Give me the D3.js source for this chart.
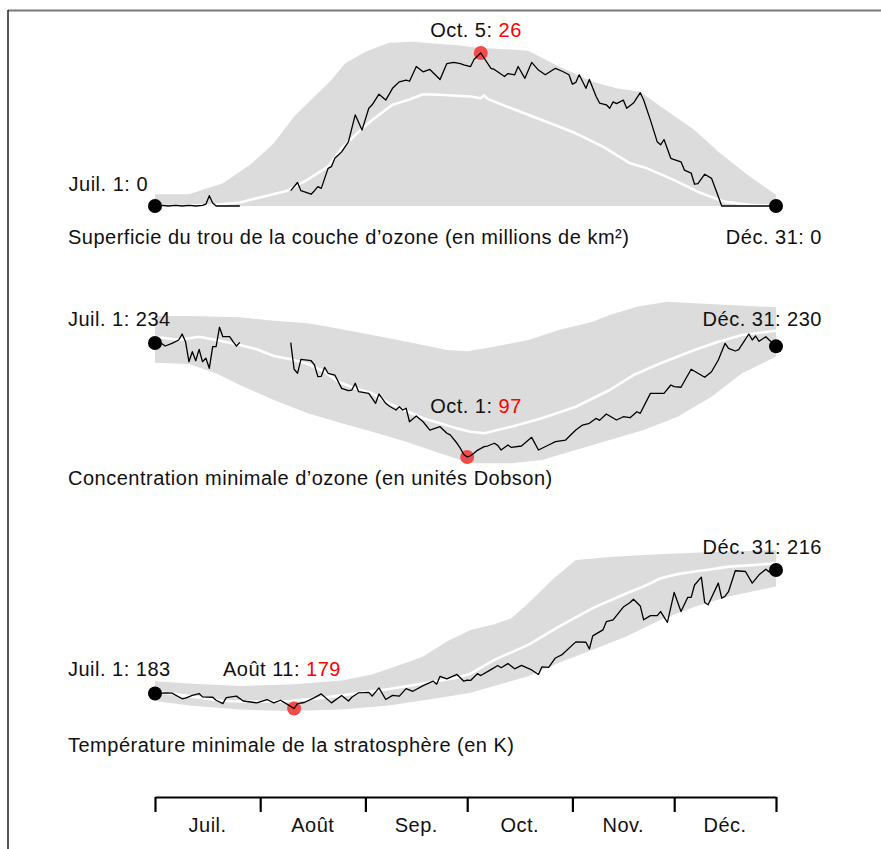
<!DOCTYPE html>
<html>
<head>
<meta charset="utf-8">
<script src="https://cdn.jsdelivr.net/npm/d3@7"></script>
<style>
  html, body { margin: 0; padding: 0; background: #fff; }
  svg { display: block; }
  text { font-family: "Liberation Sans", Arial, sans-serif; font-size: 20px; letter-spacing: 0.5px; fill: #111; }
</style>
</head>
<body>
<svg id="chart" width="881" height="849"></svg>
<script>
// Days are counted from July 1 (day 0) to December 31 (day 183).

// Ozone hole area (millions of km²)
const areaObserved = [[0,0],[2,0.1],[4,0],[6,0.1],[8,0],[10,0.1],[12,0],[14,0.1],[15,0.3],[16,1.75],[17,0.5],[18,0],[20,0],[22,0],[25,0],[26,null],
  [40,2.6],[42,4.0],[43,2.6],[46,2.0],[47,2.6],[48,3.3],[49,3.0],[51,6.4],[52,6.7],[53,8.1],[55,9.2],[57,10.9],[59,15.5],[61,12.9],[63,16.6],[64,17.2],[66,19.0],[68,18.0],[70,20.0],[72,21.1],[74,21.4],[75,21.2],[77,23.7],[79,22.8],[81,23.2],[84,21.5],[86,24.2],[88,24.4],[90,24.2],[91,24.0],[93,23.7],[94,24.9],[96,26],
  [99,23.4],[100,23.2],[103,22.0],[104,22.5],[106,22.3],[107,23.7],[109,21.7],[111,24.4],[113,23.1],[115,22.3],[118,23.4],[120,22.9],[122,22.3],[123,20.7],[124,21.0],[125,22.3],[127,20.0],[128,21.5],[130,18.6],[131,17.5],[133,17.2],[134,16.6],[135,17.7],[136,17.4],[138,18.0],[139,16.6],[141,17.5],[143,19.25],[144,18.0],[146,14.6],[148,10.9],[149,10.4],[150,11.3],[152,8.1],[153,7.9],[155,7.5],[156,6.1],[158,5.6],[159,3.7],[160,3.8],[162,5.4],[164,4.7],[166,1.6],[167,0],[183,0]];
const areaMean = [[0,0],[10,0.05],[18,0.2],[25,0.6],[33,1.75],[39,2.6],[45,4.5],[51,6.7],[55,9.8],[60,12.6],[64,14.6],[70,17.2],[75,18.1],[79,19.0],[84,18.9],[90,18.7],[93,18.6],[96,18.3],[97,18.8],[98,18.2],[105,16.6],[114,14.6],[124,12.35],[132,10.1],[140,7.25],[145,6.4],[153,4.4],[161,2.15],[168,0.7],[175,0.2],[183,0]];
const areaHigh = [[0,2.0],[10,2.0],[20,3.85],[28,7.0],[35,10.65],[41,15.2],[47,18.6],[52,21.4],[56,24.2],[62,26.2],[69,27.75],[76,27.9],[82,27.6],[89,27.3],[95,26.9],[102,26.7],[110,26.4],[119,23.7],[129,21.1],[136,20.0],[143,19.4],[149,16.9],[159,12.9],[166,9.2],[174,5.55],[183,1.9]];
const areaLow = [[0,0],[183,0]];

// Minimum ozone concentration (Dobson units)
const ozoneObserved = [[0,234],[1,236],[3,230.4],[5,233.6],[7,237.6],[8,244.8],[9,235.6],[10,211.5],[11,223.5],[12,212.7],[13,226.4],[14,211.5],[15,215.6],[16,203.6],[17,229.6],[18,229.6],[19,252.9],[20,241.6],[22,241.6],[23,235.6],[24,230.4],[25,234.8],[26,null],
  [40,234.4],[41,202.4],[42,197.6],[43,214.4],[46,212.7],[47,207.6],[48,193.5],[49,194],[50,204.8],[51,197.6],[53,195.5],[55,179.5],[57,176.7],[58,177.5],[59,185.6],[60,175.5],[63,173.5],[65,161.5],[66,172.7],[68,161.5],[69,158.3],[71,153.5],[72,157.4],[73,153.5],[74,155.6],[75,139.4],[77,146.3],[79,139.4],[81,129.4],[84,133.4],[86,125.5],[87,123.5],[89,113.5],[90,107.4],[91,100],[92,97],
  [93,98.5],[94,101.4],[95,105],[97,109.4],[98,110.2],[100,113.5],[101,111],[102,105.4],[104,111.4],[105,108.5],[108,110.2],[111,120.6],[113,105.4],[116,111.4],[118,115.4],[121,117.4],[124,129.4],[126,135.4],[128,137.5],[130,143.5],[131,141],[133,148.7],[136,141.5],[138,145.4],[140,144.2],[142,151.4],[143,149.5],[146,173.5],[150,173.5],[152,183.5],[153,181.5],[155,180.8],[158,202.4],[160,197.6],[162,192.8],[164,199.5],[166,213.6],[168,233.6],[169,227.6],[171,224.4],[172,226],[175,244.8],[176,237.6],[177,242.4],[178,236],[180,241.6],[181,237.6],[183,230]];
const ozoneMean = [[0,241.6],[7,237.6],[13,241.6],[18,237.6],[25,231.6],[30,226.4],[35,218.4],[40,214.4],[45,208.8],[50,199.5],[54,187.5],[59,179.5],[64,173.5],[69,161.5],[74,152.6],[79,143.5],[84,137.5],[89,131.4],[93,127.4],[97,125.5],[105,133.4],[114,143.5],[124,157.4],[134,177.5],[141,195.5],[149,209.6],[152,214.4],[159,225.6],[166,235.6],[173,243.6],[183,248.8]];
const ozoneHigh = [[0,266.5],[10,266.5],[25,264.9],[35,260.8],[45,257.7],[51,253.6],[59,247.6],[69,239.6],[79,231.6],[86,225.6],[92,224],[100,229.6],[110,237.6],[119,249.6],[129,259.6],[134,267.7],[142,277.6],[151,283.6],[159,281.7],[169,279.7],[183,276.9]];
const ozoneLow = [[0,210.3],[10,208.8],[18,197.6],[25,183.5],[35,165.5],[45,149.5],[55,137.5],[64,127.4],[74,115.4],[84,101.4],[93,89.4],[97,89.4],[105,89.4],[114,93.4],[124,105.4],[134,117.4],[144,129.4],[154,145.4],[164,169.5],[173,197.6],[183,217.5]];

// Minimum stratospheric temperature (K)
const tempObserved = [[0,183],[3,183.2],[5,183.1],[8,181.6],[9,181.8],[11,182.5],[13,183],[14,182.1],[17,182],[18,181.2],[20,180.3],[21,181.9],[24,182.3],[26,181],[30,180.5],[33,181.4],[35,180.5],[37,181.2],[39,180.1],[41,179],[42,180.3],[44,180.6],[47,181.9],[49,182.9],[52,180.5],[55,182.5],[57,181],[58,182],[60,183.2],[63,183.3],[64,182.3],[66,184.5],[68,181.4],[70,182.5],[72,182.3],[74,184.3],[76,183.6],[79,185.1],[82,186.3],[83,185.5],[84,187.6],[86,186.9],[89,188.1],[91,186.3],[92,186.6],[93,186.5],[95,188.3],[96,187.8],[99,189.4],[101,190.5],[102,189.9],[104,191],[106,189.6],[108,190.5],[111,189.3],[113,188.1],[114,190.1],[116,190],[118,192.5],[120,193.4],[124,196.8],[127,196.7],[128,194.9],[129,198.4],[132,200],[133,202.2],[135,202.7],[138,206.1],[140,207.3],[141,208.2],[143,206.4],[144,202.7],[146,203.8],[148,203.8],[149,204.9],[151,202],[153,210],[155,204.9],[157,208.7],[158,208.7],[159,212],[161,214.1],[162,207.3],[163,206.7],[166,212.5],[167,208.5],[168,209],[169,210.2],[171,215.8],[174,215.6],[176,212.5],[178,214.7],[180,216.2],[181,215.5],[183,216]];
const tempMean = [[0,183.5],[10,182.3],[20,181],[30,180.8],[40,181],[50,181.9],[59,183],[69,184.2],[79,185.7],[89,187.2],[93,188.3],[100,192],[110,196],[119,200.9],[129,205.8],[139,209.8],[144,211.6],[149,213.8],[154,214.9],[159,215.6],[164,216.2],[169,216.9],[176,217.3],[183,217.8]];
const tempHigh = [[0,186.3],[10,185.7],[25,185],[40,185.4],[55,186.5],[64,188.1],[74,191.2],[79,192.9],[86,196.9],[93,200],[100,201.5],[105,203.1],[110,207.1],[117,213.3],[124,218.7],[134,219.5],[144,220],[159,220.6],[183,221.3]];
const tempLow = [[0,181],[10,179.8],[25,178.7],[40,178.3],[55,178.7],[69,179.8],[84,181.9],[93,183.2],[100,185],[110,187.6],[119,191.2],[129,194.7],[139,198.3],[149,202.7],[159,206.2],[169,208.9],[183,211.6]];

// Month axis
const monthStarts = [0, 31, 62, 92, 123, 153, 183];
const monthLabels = ["Juil.", "Août", "Sep.", "Oct.", "Nov.", "Déc."];

const svg = d3.select("#chart");
const x = d3.scaleLinear().domain([0, 183]).range([155, 776]);

// frame
svg.append("line").attr("x1", 8).attr("x2", 881).attr("y1", 10.5).attr("y2", 10.5)
  .attr("stroke", "#777").attr("stroke-width", 2);
svg.append("line").attr("x1", 8).attr("x2", 8).attr("y1", 10).attr("y2", 849)
  .attr("stroke", "#222").attr("stroke-width", 1.5);

const panels = [
  {
    observed: areaObserved, mean: areaMean, high: areaHigh, low: areaLow,
    y: d3.scaleLinear().domain([0, 26]).range([206, 53]),
    title: "Superficie du trou de la couche d\u2019ozone (en millions de km\u00B2)", titleY: 244,
    start: { label: "Juil. 1: ", value: 0, day: 0, x: 148, y: 191, anchor: "end" },
    end: { label: "Déc. 31: ", value: 0, day: 183, x: 822, y: 244, anchor: "end" },
    extreme: { label: "Oct. 5: ", value: 26, day: 96, x: 476, y: 37, anchor: "middle" }
  },
  {
    observed: ozoneObserved, mean: ozoneMean, high: ozoneHigh, low: ozoneLow,
    y: d3.scaleLinear().domain([97, 234]).range([457, 343]),
    title: "Concentration minimale d\u2019ozone (en unités Dobson)", titleY: 485,
    start: { label: "Juil. 1: ", value: 234, day: 0, x: 68, y: 326, anchor: "start" },
    end: { label: "Déc. 31: ", value: 230, day: 183, x: 822, y: 326, anchor: "end" },
    extreme: { label: "Oct. 1: ", value: 97, day: 92, x: 476, y: 413, anchor: "middle" }
  },
  {
    observed: tempObserved, mean: tempMean, high: tempHigh, low: tempLow,
    y: d3.scaleLinear().domain([179, 216]).range([708.5, 570]),
    title: "Température minimale de la stratosphère (en K)", titleY: 752,
    start: { label: "Juil. 1: ", value: 183, day: 0, x: 68, y: 676, anchor: "start" },
    end: { label: "Déc. 31: ", value: 216, day: 183, x: 822, y: 554, anchor: "end" },
    extreme: { label: "Août 11: ", value: 179, day: 41, x: 223, y: 676, anchor: "start" }
  }
];

panels.forEach(p => {
  const g = svg.append("g");
  const line = d3.line().defined(d => d[1] != null).x(d => x(d[0])).y(d => p.y(d[1]));

  // range band: upper edge forward, lower edge back
  const band = p.high.concat(p.low.slice().reverse());
  g.append("path").attr("d", line(band) + "Z").attr("fill", "#dcdcdc");

  g.append("path").attr("d", line(p.mean)).attr("fill", "none")
    .attr("stroke", "#fff").attr("stroke-width", 2.6).attr("stroke-linejoin", "round");

  g.append("circle").attr("cx", x(p.extreme.day)).attr("cy", p.y(p.extreme.value))
    .attr("r", 7).attr("fill", "#f24b4b");

  g.append("path").attr("d", line(p.observed)).attr("fill", "none")
    .attr("stroke", "#000").attr("stroke-width", 1.3).attr("stroke-linejoin", "round");

  [p.start, p.end].forEach(e => {
    g.append("circle").attr("cx", x(e.day)).attr("cy", p.y(e.value)).attr("r", 7).attr("fill", "#000");
  });

  [p.start, p.end].forEach(e => {
    const t = g.append("text").attr("x", e.x).attr("y", e.y).attr("text-anchor", e.anchor);
    t.append("tspan").text(e.label + e.value);
  });
  const t = g.append("text").attr("x", p.extreme.x).attr("y", p.extreme.y).attr("text-anchor", p.extreme.anchor);
  t.append("tspan").text(p.extreme.label);
  t.append("tspan").style("fill", "#f00").text(p.extreme.value);

  g.append("text").attr("x", 68).attr("y", p.titleY).text(p.title);
});

// month axis
const axis = d3.axisBottom(x).tickValues(monthStarts).tickFormat("").tickSize(15).tickSizeOuter(0);
const ag = svg.append("g").attr("transform", "translate(0,797)").call(axis);
ag.select(".domain").attr("stroke", "#000").attr("stroke-width", 2.2);
ag.selectAll(".tick line").attr("stroke", "#000").attr("stroke-width", 2.2);

svg.append("g").selectAll("text").data(monthLabels).join("text")
  .attr("x", (d, i) => (x(monthStarts[i]) + x(monthStarts[i + 1])) / 2)
  .attr("y", 832).attr("text-anchor", "middle").text(d => d);
</script>
</body>
</html>
